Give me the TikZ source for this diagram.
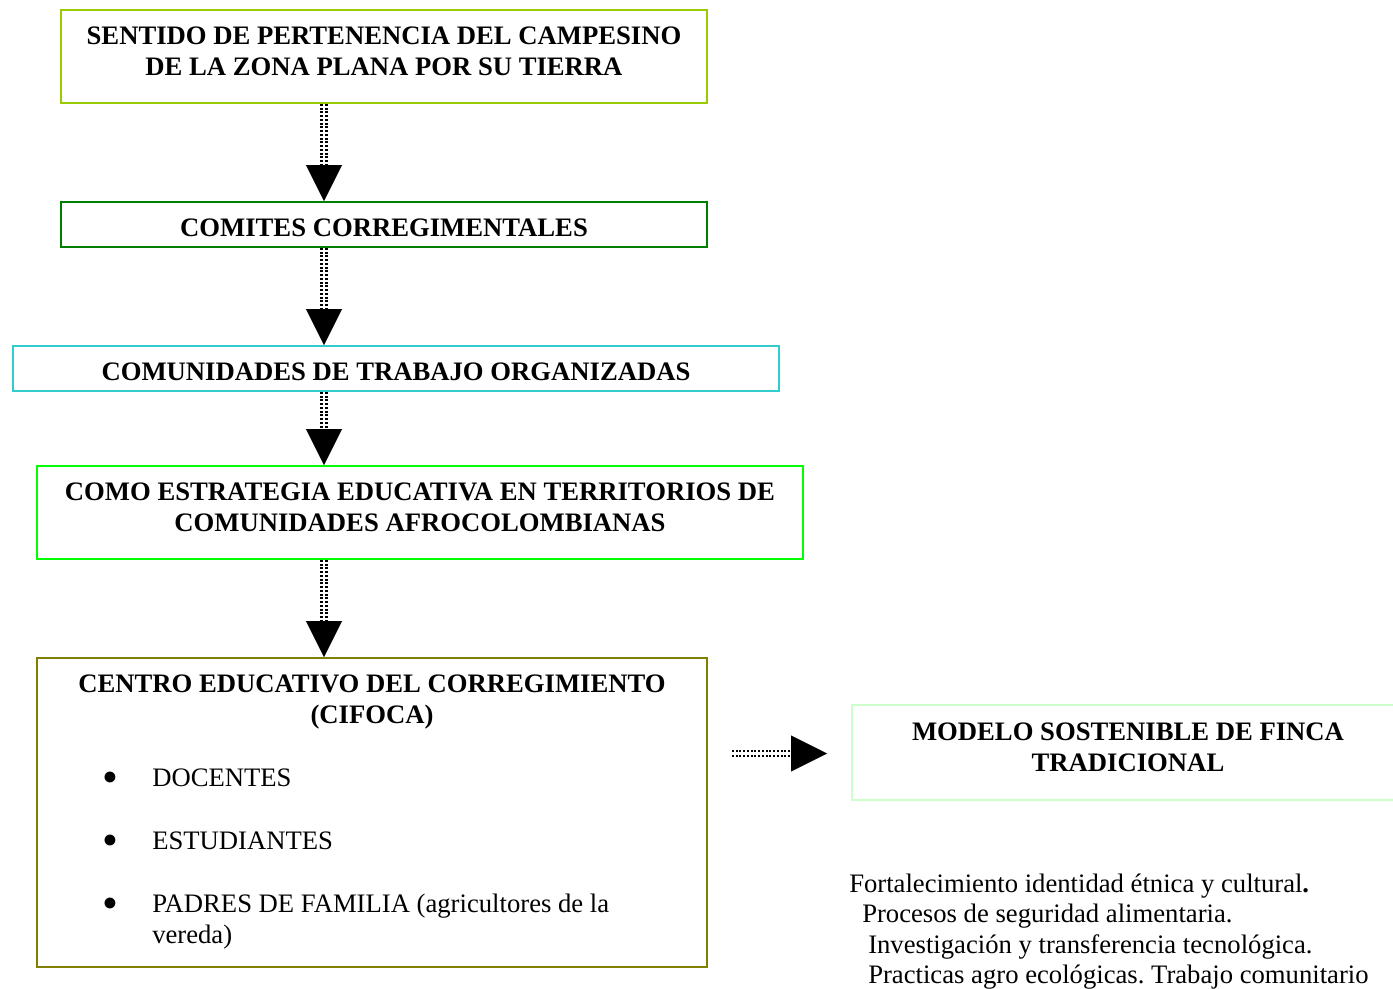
\documentclass[tikz,border=0pt]{standalone}
\usepackage{fontspec}
\setmainfont{Liberation Serif}
\usetikzlibrary{arrows.meta,calc}
\definecolor{cA}{HTML}{99CC00}
\definecolor{cB}{HTML}{008000}
\definecolor{cC}{HTML}{33CCCC}
\definecolor{cD}{HTML}{00FF00}
\definecolor{cE}{HTML}{808000}
\definecolor{cF}{HTML}{CCFFCC}
\frenchspacing
\begin{document}
\begin{tikzpicture}[x=0.75pt,y=-0.75pt,
  box/.style={draw, line width=1.5pt, inner sep=0pt, fill=none},
  hd/.style={font=\fontsize{20pt}{23.25pt}\selectfont\bfseries, anchor=base, inner sep=0pt},
  tx/.style={font=\fontsize{20pt}{23.25pt}\selectfont, anchor=base west, inner sep=0pt},
  bul/.style={font=\fontsize{34pt}{34pt}\selectfont, anchor=center, inner sep=0pt},
  dotl/.style={line width=1.6pt, dash pattern=on 1.5pt off 1.3pt},
  tipa/.style={-{Triangle[length=27pt,width=27pt]}, line width=0.3pt}
]
\useasboundingbox (0,0) rectangle (1393,989);
\fill[white] (0,0) rectangle (1393,989);

% boxes
\node[box, draw=cA, minimum width=484.5pt, minimum height=69.75pt] (b1) at (384,56.5) {};
\node[box, draw=cB, minimum width=484.5pt, minimum height=33.75pt] (b2) at (384,224.5) {};
\node[box, draw=cC, minimum width=574.5pt, minimum height=33.75pt] (b3) at (396,368.5) {};
\node[box, draw=cD, minimum width=574.5pt, minimum height=69.75pt] (b4) at (420,512.5) {};
\node[box, draw=cE, minimum width=502.5pt, minimum height=231.75pt] (b5) at (372,812.5) {};
\node[box, draw=cF, minimum width=411pt, minimum height=71.25pt] (b6) at (1126,752.5) {};

% texts
\node[hd] (t1a) at (384,44) {SENTIDO DE PERTENENCIA DEL CAMPESINO};
\node[hd] (t1b) at (384,75) {DE LA ZONA PLANA POR SU TIERRA};
\node[hd] (t2) at (384,236) {COMITES CORREGIMENTALES};
\node[hd] (t3) at (396,380) {COMUNIDADES DE TRABAJO ORGANIZADAS};
\node[hd] (t4a) at (420,500) {COMO ESTRATEGIA EDUCATIVA EN TERRITORIOS DE};
\node[hd] (t4b) at (420,531) {COMUNIDADES AFROCOLOMBIANAS};
\node[hd] (t5a) at (372,692) {CENTRO EDUCATIVO DEL CORREGIMIENTO};
\node[hd] (t5b) at (372,723) {(CIFOCA)};
\node[bul] (u1) at (110,782) {•};
\node[tx] (l1) at (152,786) {DOCENTES};
\node[bul] (u2) at (110,845) {•};
\node[tx] (l2) at (152,849) {ESTUDIANTES};
\node[bul] (u3) at (110,908) {•};
\node[tx] (l3) at (152,912) {PADRES DE FAMILIA (agricultores de la};
\node[tx] (l3b) at (152,943) {vereda)};
\node[hd] (t6a) at (1128,740) {MODELO SOSTENIBLE DE FINCA};
\node[hd] (t6b) at (1128,771) {TRADICIONAL};
\node[tx] (r1) at (849,892) {Fortalecimiento identidad étnica y cultural\textbf{.}};
\node[tx] (r2) at (862,922) {Procesos de seguridad alimentaria.};
\node[tx] (r3) at (868,953) {Investigación y transferencia tecnológica.};
\node[tx] (r4) at (868,983) {Practicas agro ecológicas. Trabajo comunitario};

% arrows
\coordinate (ax) at (324,0);
\coordinate (ay) at (0,753.5);
\foreach \a/\b in {b1/b2,b2/b3,b3/b4,b4/b5}{
  \draw[dotl] ($(\a.south -| ax)+(-2.5,0)$) -- ($(\b.north -| ax)+(-2.5,-36)$);
  \draw[dotl] ($(\a.south -| ax)+(2.5,0)$) -- ($(\b.north -| ax)+(2.5,-36)$);
  \draw[tipa] ($(\b.north -| ax)+(0,-36)$) -- (\b.north -| ax);
}
\draw[dotl] ($(b5.east |- ay)+(24,-2.5)$) -- ($(b6.west |- ay)+(-60,-2.5)$);
\draw[dotl] ($(b5.east |- ay)+(24,2.5)$) -- ($(b6.west |- ay)+(-60,2.5)$);
\draw[tipa] ($(b6.west |- ay)+(-60,0)$) -- ($(b6.west |- ay)+(-24,0)$);
\end{tikzpicture}
\end{document}
